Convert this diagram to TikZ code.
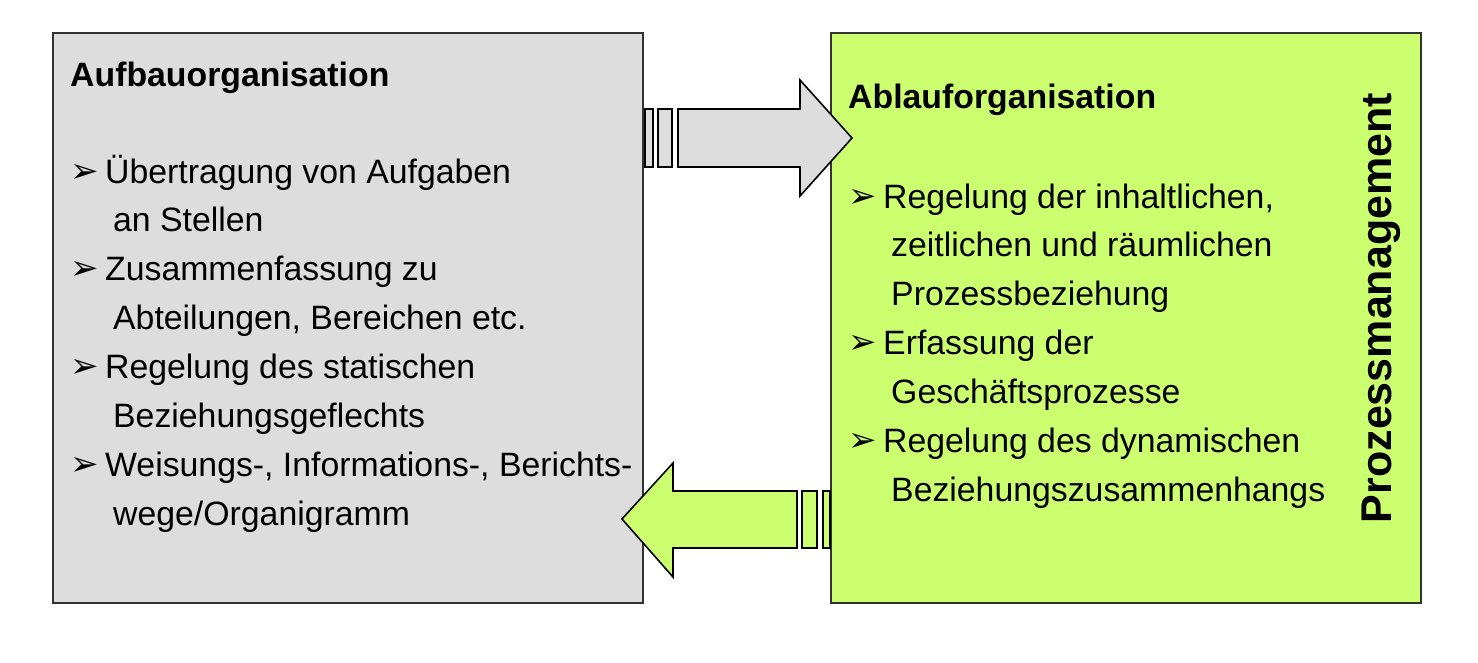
\documentclass[tikz,border=0pt]{standalone}
\usepackage{fontspec}
\setmainfont{Liberation Sans}
\newfontfamily\dejavu{DejaVu Sans}
\begin{document}
\begin{tikzpicture}[x=1pt,y=-1pt,
  box/.style={draw=black!80,line width=1.2pt},
  txt/.style={anchor=base west,inner sep=0pt,font=\fontsize{33.8}{36}\selectfont},
  ttl/.style={anchor=base west,inner sep=0pt,font=\fontsize{33.8}{36}\selectfont\bfseries},
  bul/.style={anchor=base west,inner sep=0pt,font=\fontsize{34}{36}\dejavu},
  arr/.style={draw=black,line width=1.6pt,line join=miter}]
\useasboundingbox (0,0) rectangle (1478,662);
\definecolor{grayf}{HTML}{DDDDDD}
\definecolor{greenf}{HTML}{CCFF70}
\draw[box,fill=grayf] (53,33) rectangle (643,603);
\draw[box,fill=greenf] (831,33) rectangle (1421,603);
% top arrow
\draw[arr,fill=grayf] (645,109) rectangle (653,167);
\draw[arr,fill=grayf] (658,109) rectangle (672,167);
\draw[arr,fill=grayf] (678,109) -- (800,109) -- (800,80) -- (852,138) -- (800,196) -- (800,167) -- (678,167) -- cycle;
% bottom arrow
\draw[arr,fill=greenf] (823,491) rectangle (830,548);
\draw[arr,fill=greenf] (802,491) rectangle (817,548);
\draw[arr,fill=greenf] (797,491) -- (673,491) -- (673,463) -- (622,519) -- (673,577) -- (673,548) -- (797,548) -- cycle;
% left text
\node[ttl] (lt) at (70,86) {Aufbauorganisation};
\foreach \y/\t [count=\i] in {183/{Übertragung von Aufgaben},280/{Zusammenfassung zu},378/{Regelung des statischen},476/{Weisungs-, Informations-, Berichts-}}{
  \node[bul] (lb\i) at (70,\y-1) {➢};
  \node[txt] (l\i) at (105,\y) {\t};}
\foreach \y/\t [count=\i] in {231/{an Stellen},329/{Abteilungen, Bereichen etc.},427/{Beziehungsgeflechts},525/{wege/Organigramm}}{
  \node[txt] (lc\i) at (113,\y) {\t};}
% right text
\node[ttl] (rt) at (848,108) {Ablauforganisation};
\foreach \y/\t [count=\i] in {208/{Regelung der inhaltlichen,},354/{Erfassung der},452/{Regelung des dynamischen}}{
  \node[bul] (rb\i) at (848,\y-1) {➢};
  \node[txt] (r\i) at (883,\y) {\t};}
\foreach \y/\t [count=\i] in {256/{zeitlichen und räumlichen},305/{Prozessbeziehung},403/{Geschäftsprozesse},501/{Beziehungszusammenhangs}}{
  \node[txt] (rc\i) at (891,\y) {\t};}
\node[rotate=90,inner sep=0pt,font=\fontsize{43}{46}\selectfont\bfseries] (pm) at (1381,308) {Prozessmanagement};
\end{tikzpicture}
\end{document}
